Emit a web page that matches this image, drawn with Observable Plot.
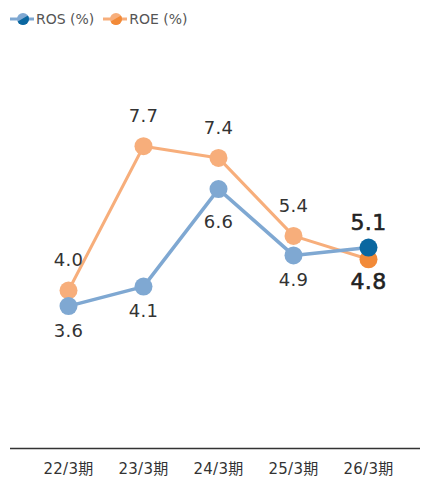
<!DOCTYPE html>
<html>
<head>
<meta charset="utf-8">
<script src="https://cdn.jsdelivr.net/npm/d3@7"></script>
<script src="https://cdn.jsdelivr.net/npm/@observablehq/plot@0.6"></script>
<style>
  body { margin: 0; background: #fff; font-family: "DejaVu Sans", "Noto Sans CJK JP", sans-serif; }
  #legend { height: 36px; display: flex; align-items: center; padding-left: 10px; font-size: 14px; color: #555; box-sizing: border-box; padding-top: 2px; }
  .item { display: flex; align-items: center; margin-right: 9px; }
  .item svg { margin-right: 2px; }
  #chart svg text { letter-spacing: 0.3px; }
</style>
</head>
<body>
<div id="legend"></div>
<div id="chart"></div>
<script>
const periods = ["22/3期", "23/3期", "24/3期", "25/3期", "26/3期"];
const ros = [3.6, 4.1, 6.6, 4.9, 5.1];
const roe = [4.0, 7.7, 7.4, 5.4, 4.8];
const seriesNames = ["ROS (%)", "ROE (%)"];

const colors = {
  ros: "#7fa8d2", rosDark: "#0a67a0",
  roe: "#f7ae7b", roeDark: "#f28a38"
};

// legend
const legend = document.getElementById("legend");
[[seriesNames[0], colors.ros, colors.rosDark], [seriesNames[1], colors.roe, colors.roeDark]].forEach(([name, c1, c2]) => {
  const d = document.createElement("div");
  d.className = "item";
  d.innerHTML = `<svg width="24" height="14" viewBox="0 0 24 14">
    <line x1="0" y1="7" x2="24" y2="7" stroke="${c1}" stroke-width="3"/>
    <clipPath id="c${c1.slice(1)}"><polygon points="0,14 24,0 24,14"/></clipPath>
    <circle cx="13" cy="7" r="6" fill="${c1}"/>
    <circle cx="13" cy="7" r="6" fill="${c2}" clip-path="url(#c${c1.slice(1)})"/>
  </svg><span>${name}</span>`;
  legend.appendChild(d);
});

const rosData = periods.map((p, i) => ({period: p, value: ros[i], last: i === periods.length - 1}));
const roeData = periods.map((p, i) => ({period: p, value: roe[i], last: i === periods.length - 1}));

const fmt = v => v.toFixed(1);
const labelFont = "DejaVu Sans, Noto Sans CJK JP, sans-serif";

const chart = Plot.plot({
  width: 421,
  height: 443,
  marginLeft: 10,
  marginRight: 1,
  marginTop: 20,
  marginBottom: 33,
  style: {fontFamily: labelFont, background: "#fff"},
  x: {type: "point", domain: periods, insetLeft: 57, insetRight: 51, padding: 0},
  y: {domain: [0, 10], axis: null},
  marks: [
    Plot.ruleY([0], {stroke: "#333", strokeWidth: 1.3, dy: 2}),
    Plot.axisX({tickSize: 0, tickPadding: 17, fontSize: 15, fill: "#333", label: null}),
    // ROE
    Plot.line(roeData, {x: "period", y: "value", stroke: colors.roe, strokeWidth: 3}),
    Plot.dot(roeData, {x: "period", y: "value", r: 9, fill: d => d.last ? colors.roeDark : colors.roe}),
    // ROS
    Plot.line(rosData, {x: "period", y: "value", stroke: colors.ros, strokeWidth: 3.5}),
    Plot.dot(rosData, {x: "period", y: "value", r: 9, fill: d => d.last ? colors.rosDark : colors.ros}),
    // labels ROE (above)
    Plot.text(roeData.filter(d => !d.last), {x: "period", y: "value", text: d => fmt(d.value), dy: -30, fontSize: 18, fill: "#333"}),
    // labels ROS (below)
    Plot.text(rosData.filter(d => !d.last && d.value < 6), {x: "period", y: "value", text: d => fmt(d.value), dy: 25, fontSize: 18, fill: "#333"}),
    Plot.text(rosData.filter(d => !d.last && d.value >= 6), {x: "period", y: "value", text: d => fmt(d.value), dy: 33, fontSize: 18, fill: "#333"}),
    // last labels
    Plot.text(rosData.filter(d => d.last), {x: "period", y: "value", text: d => fmt(d.value), dy: -25, fontSize: 22, fill: "#222", stroke: "#222", strokeWidth: 0.6}),
    Plot.text(roeData.filter(d => d.last), {x: "period", y: "value", text: d => fmt(d.value), dy: 23, fontSize: 22, fill: "#222", stroke: "#222", strokeWidth: 0.6})
  ]
});
document.getElementById("chart").appendChild(chart);
</script>
</body>
</html>
